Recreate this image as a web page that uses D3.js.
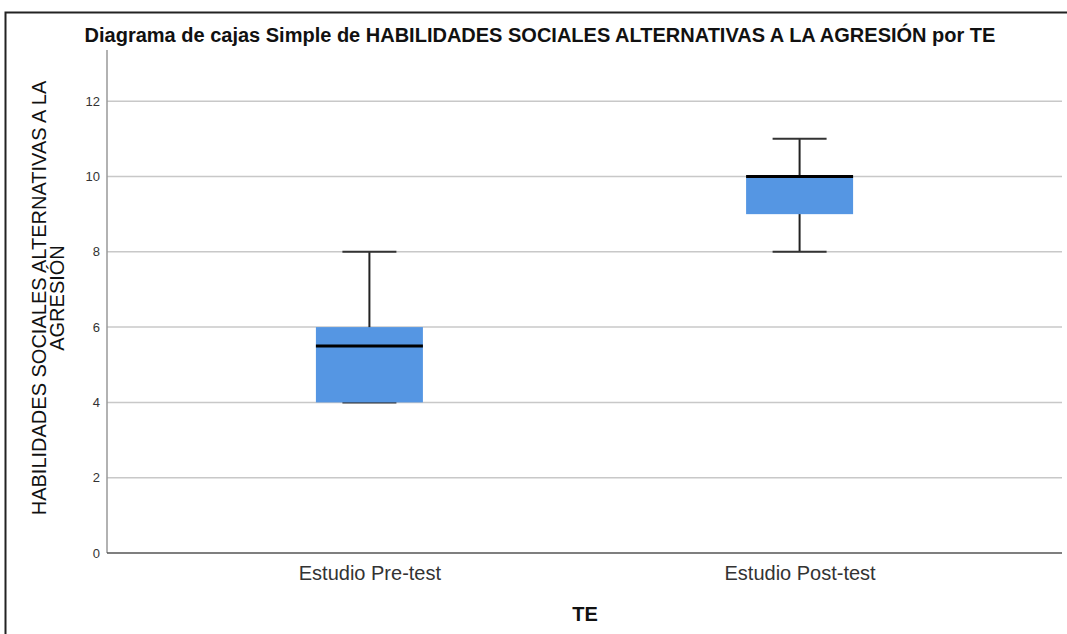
<!DOCTYPE html>
<html>
<head>
<meta charset="utf-8">
<script src="https://cdn.jsdelivr.net/npm/d3@7"></script>
<style>
    body { margin: 0; background: #fff; }
    svg { display: block; font-family: "Liberation Sans", Arial, sans-serif; }
</style>
</head>
<body>
<script>
//box plot values
var categories = ["Estudio Pre-test", "Estudio Post-test"];
var mins = [4, 8];
var q1s = [4, 9];
var medians = [5.5, 10];
var q3s = [6, 10];
var maxs = [8, 11];
var yTicks = [0, 2, 4, 6, 8, 10, 12];

var titleText = "Diagrama de cajas Simple de HABILIDADES SOCIALES ALTERNATIVAS A LA AGRESIÓN por TE";
var yLabelLines = ["HABILIDADES SOCIALES ALTERNATIVAS A LA", "AGRESIÓN"];
var xLabelText = "TE";

window.onload = drawChart();

function drawChart(){
    var width = 1067,
        height = 634;

    var svg = d3.select("body")
        .append("svg")
        .attr("width", width)
        .attr("height", height);

    //outer frame (left and top edges)
    svg.append("path")
        .attr("d", "M5.5," + height + "V12.5H" + width)
        .attr("fill", "none")
        .attr("stroke", "#222")
        .attr("stroke-width", 2);

    var plotLeft = 107, plotRight = 1062, plotTop = 50, plotBottom = 553;

    var y = d3.scaleLinear()
        .domain([0, 13.36])
        .range([plotBottom, plotTop]);

    var x = d3.scalePoint()
        .domain(categories)
        .range([plotLeft, plotRight])
        .padding(0.61);

    //gridlines
    svg.append("g")
        .selectAll("line")
        .data(yTicks.filter(function(d){ return d > 0; }))
        .enter()
        .append("line")
        .attr("x1", plotLeft)
        .attr("x2", plotRight)
        .attr("y1", function(d){ return y(d); })
        .attr("y2", function(d){ return y(d); })
        .attr("stroke", "#c8c8c8")
        .attr("stroke-width", 1.5);

    //y axis
    var yAxis = svg.append("g")
        .attr("transform", "translate(" + plotLeft + ",0)")
        .call(d3.axisLeft(y).tickValues(yTicks).tickSize(0).tickPadding(7));
    yAxis.select(".domain").remove();
    yAxis.selectAll("text")
        .attr("font-size", 13)
        .attr("font-family", "Liberation Sans, Arial, sans-serif")
        .attr("fill", "#333");
    svg.append("line")
        .attr("x1", plotLeft).attr("x2", plotLeft)
        .attr("y1", plotTop).attr("y2", plotBottom)
        .attr("stroke", "#999")
        .attr("stroke-width", 1.5);

    //x axis
    var xAxis = svg.append("g")
        .attr("transform", "translate(0," + plotBottom + ")")
        .call(d3.axisBottom(x).tickSize(0).tickPadding(13));
    xAxis.select(".domain").remove();
    xAxis.selectAll("text")
        .attr("font-size", 20)
        .attr("font-family", "Liberation Sans, Arial, sans-serif")
        .attr("fill", "#333");
    svg.append("line")
        .attr("x1", plotLeft).attr("x2", plotRight)
        .attr("y1", plotBottom).attr("y2", plotBottom)
        .attr("stroke", "#555")
        .attr("stroke-width", 1.5);

    //boxes
    var boxW = 107, capW = 54;
    var groups = svg.selectAll(".box")
        .data(categories)
        .enter()
        .append("g")
        .attr("class", "box");

    //whiskers
    groups.append("line")
        .attr("x1", function(d){ return x(d); })
        .attr("x2", function(d){ return x(d); })
        .attr("y1", function(d, i){ return y(maxs[i]); })
        .attr("y2", function(d, i){ return y(mins[i]); })
        .attr("stroke", "#222")
        .attr("stroke-width", 2);

    //caps
    groups.selectAll(".cap")
        .data(function(d, i){ return [{c: d, v: mins[i]}, {c: d, v: maxs[i]}]; })
        .enter()
        .append("line")
        .attr("class", "cap")
        .attr("x1", function(d){ return x(d.c) - capW / 2; })
        .attr("x2", function(d){ return x(d.c) + capW / 2; })
        .attr("y1", function(d){ return y(d.v); })
        .attr("y2", function(d){ return y(d.v); })
        .attr("stroke", "#333")
        .attr("stroke-width", 2);

    groups.append("rect")
        .attr("x", function(d){ return x(d) - boxW / 2; })
        .attr("width", boxW)
        .attr("y", function(d, i){ return y(q3s[i]); })
        .attr("height", function(d, i){ return y(q1s[i]) - y(q3s[i]); })
        .attr("fill", "#5596e3");

    //medians
    groups.append("line")
        .attr("x1", function(d){ return x(d) - boxW / 2; })
        .attr("x2", function(d){ return x(d) + boxW / 2; })
        .attr("y1", function(d, i){ return y(medians[i]); })
        .attr("y2", function(d, i){ return y(medians[i]); })
        .attr("stroke", "#000")
        .attr("stroke-width", 3);

    //title
    svg.append("text")
        .attr("x", 540)
        .attr("y", 42)
        .attr("text-anchor", "middle")
        .attr("font-size", 20)
        .attr("font-weight", "bold")
        .attr("fill", "#111")
        .text(titleText);

    //y label
    var yLabel = svg.append("text")
        .attr("transform", "translate(0,298) rotate(-90)")
        .attr("text-anchor", "middle")
        .attr("font-size", 20)
        .attr("fill", "#111");
    yLabel.selectAll("tspan")
        .data(yLabelLines)
        .enter()
        .append("tspan")
        .attr("x", 0)
        .attr("y", function(d, i){ return 46 + i * 18; })
        .text(function(d){ return d; });

    //x label
    svg.append("text")
        .attr("x", 585)
        .attr("y", 621)
        .attr("text-anchor", "middle")
        .attr("font-size", 20)
        .attr("font-weight", "bold")
        .attr("fill", "#111")
        .text(xLabelText);
}
</script>
</body>
</html>
